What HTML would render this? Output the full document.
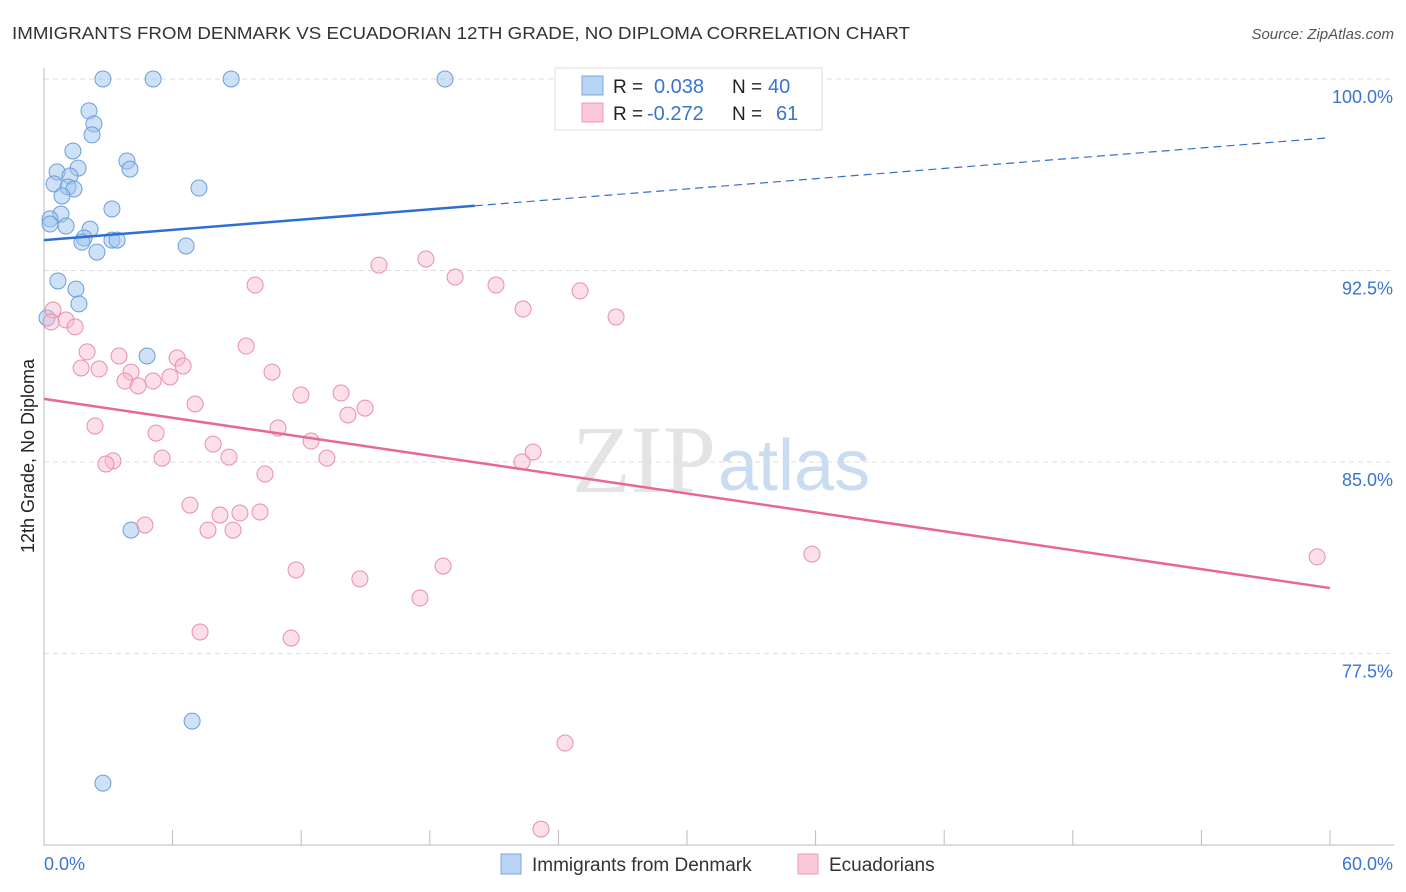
<!DOCTYPE html>
<html><head><meta charset="utf-8"><style>
body{margin:0;background:#fff;font-family:"Liberation Sans",sans-serif;}
svg{display:block}
</style></head><body>
<svg id="chart" width="1406" height="892" xmlns="http://www.w3.org/2000/svg">
<text x="12" y="39" font-size="17.5" fill="#333" textLength="898" lengthAdjust="spacingAndGlyphs">IMMIGRANTS FROM DENMARK VS ECUADORIAN 12TH GRADE, NO DIPLOMA CORRELATION CHART</text>
<text x="1394" y="39" font-size="15" fill="#555" font-style="italic" text-anchor="end">Source: ZipAtlas.com</text>
<text x="716" y="492" font-size="96" font-family="Liberation Serif" fill="#e4e4e4" text-anchor="end">ZIP</text>
<text x="718" y="490" font-size="72" fill="#c9dcf2">atlas</text>
<g id="grid"></g>
<g id="axes"></g>
<g id="marks"></g>
<text transform="translate(34,456) rotate(-90)" font-size="18" fill="#222" text-anchor="middle">12th Grade, No Diploma</text>
<g>
<rect x="555" y="68" width="267" height="62" fill="#fff" stroke="#ddd"/>
<rect x="582" y="76" width="21" height="19" fill="#b9d3f5" stroke="#7aa8e0"/>
<rect x="582" y="103" width="21" height="19" fill="#fbc8d7" stroke="#ee9bb5"/>
<text x="613" y="93" font-size="19" fill="#222">R =</text>
<text x="654" y="93" font-size="20" fill="#3a74d1">0.038</text>
<text x="732" y="93" font-size="19" fill="#222">N =</text>
<text x="768" y="93" font-size="20" fill="#3a74d1">40</text>
<text x="613" y="120" font-size="19" fill="#222">R =</text>
<text x="647" y="120" font-size="20" fill="#3a74d1">-0.272</text>
<text x="732" y="120" font-size="19" fill="#222">N =</text>
<text x="776" y="120" font-size="20" fill="#3a74d1">61</text>
</g>
<g>
<rect x="501" y="854" width="20" height="20" fill="#b9d3f5" stroke="#7aa8e0"/>
<text x="532" y="871" font-size="19" fill="#333">Immigrants from Denmark</text>
<rect x="798" y="854" width="20" height="20" fill="#fbc8d7" stroke="#ee9bb5"/>
<text x="829" y="871" font-size="19" fill="#333">Ecuadorians</text>
</g>
</svg>
<script>
const yTicks=[100,92.5,85,77.5];
const yTickLabels=["100.0%","92.5%","85.0%","77.5%"];
const xTickLabels=["0.0%","60.0%"];
const blueX=[2.75,5.09,8.73,18.71,2.10,2.33,2.24,1.35,3.87,4.01,1.59,0.61,1.21,0.47,1.12,1.40,0.84,7.23,3.17,0.79,0.28,0.28,1.03,2.15,1.87,1.77,3.17,3.41,2.47,6.63,0.65,1.49,1.63,0.14,4.81,4.06,6.91,2.75];
const blueY=[100,100,100,100,98.75,98.24,97.81,97.18,96.79,96.47,96.51,96.36,96.20,95.89,95.77,95.69,95.42,95.73,94.91,94.71,94.52,94.32,94.24,94.12,93.77,93.61,93.69,93.69,93.22,93.46,92.09,91.77,91.19,90.64,89.15,82.33,74.85,72.42];
const pinkX=[0.42,1.03,1.45,0.33,2.01,3.50,6.21,6.49,9.43,9.85,15.63,17.82,19.18,21.09,22.35,25.01,26.69,1.73,2.57,4.06,3.78,4.39,5.09,5.88,10.64,11.99,13.86,14.98,14.18,7.05,2.38,5.23,10.92,12.46,7.89,8.63,13.20,5.51,3.22,2.89,10.31,22.82,22.30,6.81,4.71,8.21,9.14,10.08,7.65,8.82,11.76,14.74,18.62,17.54,7.28,11.53,35.83,59.40,24.31,23.19];
const pinkY=[90.95,90.56,90.29,90.48,89.31,89.15,89.07,88.76,89.54,91.93,92.71,92.95,92.24,91.93,90.99,91.70,90.68,88.68,88.64,88.52,88.17,87.98,88.17,88.33,88.52,87.62,87.70,87.11,86.84,87.27,86.41,86.13,86.33,85.82,85.70,85.19,85.15,85.15,85.04,84.92,84.53,85.39,85.00,83.31,82.53,82.92,83.00,83.04,82.33,82.33,80.77,80.42,80.92,79.67,78.34,78.10,81.39,81.28,73.99,70.62];
const blueTrend=[93.69,97.70];
const pinkTrend=[87.47,80.06];
const NS="http://www.w3.org/2000/svg";
const X=v=>44+v/60*1286;
const Y=v=>79+(100-v)*25.53;
function mk(tag,attrs,parent){const e=document.createElementNS(NS,tag);for(const k in attrs)e.setAttribute(k,attrs[k]);parent.appendChild(e);return e;}
const grid=document.getElementById('grid'),axes=document.getElementById('axes'),marks=document.getElementById('marks');
yTicks.forEach((t,i)=>{
 const l=mk('line',{x1:44,x2:1394,y1:Y(t),y2:Y(t),stroke:'#ddd','stroke-dasharray':'5,4'},grid);
 
 
 const tx=mk('text',{x:1393,y:Y(t)+24,'font-size':18,fill:'#3a74d1','text-anchor':'end'},axes);
 tx.textContent=yTickLabels[i];
 
 
});
const al=mk('line',{x1:44,x2:44,y1:68,y2:845,stroke:'#bbb'},axes);


const bl=mk('line',{x1:44,x2:1394,y1:845,y2:845,stroke:'#bbb'},axes);


for(let i=0;i<=10;i++){
 const t=mk('line',{x1:X(i*6),x2:X(i*6),y1:830,y2:845,stroke:'#bbb'},axes);
 
 
}
const xl0=mk('text',{x:44,y:870,'font-size':18,fill:'#3a74d1'},axes);xl0.textContent=xTickLabels[0];


const xl1=mk('text',{x:1393,y:870,'font-size':18,fill:'#3a74d1','text-anchor':'end'},axes);xl1.textContent=xTickLabels[1];


blueX.forEach((v,i)=>{
 const c=mk('circle',{cx:X(v),cy:Y(blueY[i]),r:8,fill:'rgba(160,195,240,0.5)',stroke:'#6a9fdb','stroke-width':1},marks);
 
 
});
pinkX.forEach((v,i)=>{
 const c=mk('circle',{cx:X(v),cy:Y(pinkY[i]),r:8,fill:'rgba(248,185,205,0.45)',stroke:'#e88fac','stroke-width':1},marks);
 
 
});
const bs=blueTrend[0],be=blueTrend[1],xs=20.1;
const bt1=mk('line',{x1:X(0),y1:Y(bs),x2:X(xs),y2:Y(bs+(be-bs)*xs/60),stroke:'#2f6fd4','stroke-width':2.5},marks);


const bt2=mk('line',{x1:X(xs),y1:Y(bs+(be-bs)*xs/60),x2:X(59.8),y2:Y(bs+(be-bs)*59.8/60),stroke:'#2f6fd4','stroke-width':1.2,'stroke-dasharray':'8,5'},marks);


const pt=mk('line',{x1:X(0),y1:Y(pinkTrend[0]),x2:X(60),y2:Y(pinkTrend[1]),stroke:'#e8679a','stroke-width':2.5},marks);


</script>
</body></html>
